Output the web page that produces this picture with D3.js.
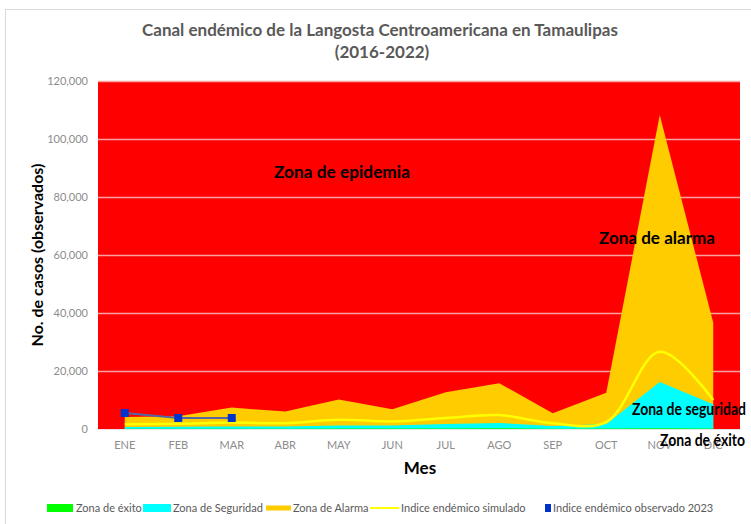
<!DOCTYPE html>
<html>
<head>
<meta charset="utf-8">
<script src="https://cdn.jsdelivr.net/npm/d3@7"></script>
<style>
body{margin:0;background:#fff;}
text{font-family:Lato,'Open Sans',sans-serif;}
</style>
</head>
<body>
<script>
const width=751;
const height=524;

// datos
const meses=['ENE','FEB','MAR','ABR','MAY','JUN','JUL','AGO','SEP','OCT','NOV','DIC'];
const zonaExito=[100,100,120,120,150,150,200,250,120,200,300,200];
const zonaSeguridad=[700,800,900,900,1200,1200,1700,2100,1000,1700,16200,8500];
const zonaAlarma=[4100,4400,7400,6000,10200,6800,12700,15800,5400,12500,108300,36600];
const indiceSimulado=[1600,1800,2200,2000,3200,2600,3800,4800,2000,2400,26600,10000];
const observados=[5500,3800,3800];
const yTicks=[0,20000,40000,60000,80000,100000,120000];

const margin={top:81,bot:95,left:98,right:11};

const svg=d3.select('body').append('svg').attr('width',width).attr('height',height);

svg.append('rect').attr('x',5.5).attr('y',9.5).attr('width',770).attr('height',540)
    .attr('fill','#fff').attr('stroke','#d9d9d9');

const x=d3.scaleBand().domain(meses).range([margin.left,width-margin.right]).padding(0);
const cx=m=>x(m)+x.bandwidth()/2;
const y=d3.scaleLinear().domain([0,120000]).range([height-margin.bot,margin.top]);

// zona de epidemia (fondo)
svg.append('rect').attr('x',margin.left).attr('y',margin.top)
    .attr('width',width-margin.right-margin.left).attr('height',y(0)-margin.top)
    .attr('fill','#ff0000');

svg.append('g').selectAll('line').data(yTicks.slice(1)).enter().append('line')
    .attr('x1',margin.left).attr('x2',width-margin.right)
    .attr('y1',d=>y(d)+0.5).attr('y2',d=>y(d)+0.5)
    .attr('stroke','#f7a3a3').attr('stroke-width',1.3);

const area=vals=>d3.area().x((d,i)=>cx(meses[i])).y0(y(0)).y1(d=>y(d))(vals);

svg.append('path').attr('d',area(zonaAlarma)).attr('fill','#ffcc00');
svg.append('path').attr('d',area(zonaSeguridad)).attr('fill','#00ffff');
svg.append('path').attr('d',area(zonaExito)).attr('fill','#00ff00');

const linea=d3.line().x((d,i)=>cx(meses[i])).y(d=>y(d)).curve(d3.curveCatmullRom.alpha(0.5));
svg.append('path').attr('d',linea(indiceSimulado)).attr('fill','none')
    .attr('stroke','#ffff00').attr('stroke-width',2.5);

const lineaObs=d3.line().x((d,i)=>cx(meses[i])).y(d=>y(d));
svg.append('path').attr('d',lineaObs(observados)).attr('fill','none')
    .attr('stroke','#5566a0').attr('stroke-width',2);
svg.selectAll('.obs').data(observados).enter().append('rect').attr('class','obs')
    .attr('x',(d,i)=>cx(meses[i])-4).attr('y',d=>y(d)-4)
    .attr('width',8).attr('height',8).attr('fill','#0033cc');

// eje x
svg.append('line').attr('x1',margin.left).attr('x2',width-margin.right)
    .attr('y1',y(0)+0.5).attr('y2',y(0)+0.5).attr('stroke','#e3e3e3');

const xAxis=d3.axisBottom(x).tickSize(0).tickPadding(12);
const gx=svg.append('g').attr('transform',`translate(0,${y(0)})`).call(xAxis);
gx.select('.domain').remove();
gx.selectAll('text').attr('fill','#8c8c8c').style('font-size','11px')
    .style('font-family','Lato,sans-serif');

const yAxis=d3.axisLeft(y).tickValues(yTicks).tickSize(0).tickPadding(10)
    .tickFormat(d3.format(','));
const gy=svg.append('g').attr('transform',`translate(${margin.left},0)`).call(yAxis);
gy.select('.domain').remove();
gy.selectAll('text').attr('fill','#8c8c8c').style('font-size','11px')
    .style('font-family','Lato,sans-serif');

// titulos
svg.append('text').text('Canal endémico de la Langosta Centroamericana en Tamaulipas')
    .attr('x',380).attr('y',36).attr('text-anchor','middle')
    .style('font-size','17px').style('font-weight','bold').attr('fill','#595959');
svg.append('text').text('(2016-2022)')
    .attr('x',382).attr('y',58).attr('text-anchor','middle')
    .style('font-size','17px').style('font-weight','bold').attr('fill','#595959');

svg.append('text').text('Mes').attr('x',420).attr('y',474).attr('text-anchor','middle')
    .style('font-size','17px').style('font-weight','bold').attr('fill','#000');

svg.append('text').text('No. de casos (observados)')
    .attr('transform','translate(43,255) rotate(-90)').attr('text-anchor','middle')
    .style('font-size','16px').style('font-weight','bold').attr('fill','#000');

// etiquetas de zonas
const etiqueta=(t,xx,yy,w)=>svg.append('text').text(t).attr('x',xx).attr('y',yy)
    .attr('textLength',w).attr('lengthAdjust','spacingAndGlyphs')
    .style('font-size','17px').style('font-weight','bold').attr('fill','#000');
etiqueta('Zona de epidemia',274,178,136);
etiqueta('Zona de alarma',599,244,116);
etiqueta('Zona de seguridad',632,415,114);
etiqueta('Zona de éxito',660,446,85);

// leyenda
const leg=svg.append('g').style('font-size','11px');
const legTxt=(t,xx)=>leg.append('text').text(t).attr('x',xx).attr('y',512).attr('fill','#595959');
leg.append('rect').attr('x',47).attr('y',504).attr('width',26).attr('height',8).attr('fill','#00ff00');
legTxt('Zona de éxito',76);
leg.append('rect').attr('x',143).attr('y',504).attr('width',28).attr('height',8).attr('fill','#00ffff');
legTxt('Zona de Seguridad',173);
leg.append('rect').attr('x',266).attr('y',505.5).attr('width',25).attr('height',5).attr('fill','#ffcc00');
legTxt('Zona de Alarma',293);
leg.append('line').attr('x1',370).attr('x2',399).attr('y1',508).attr('y2',508)
    .attr('stroke','#ffff00').attr('stroke-width',2);
legTxt('Indice endémico simulado',401);
leg.append('rect').attr('x',545).attr('y',504).attr('width',6).attr('height',8).attr('fill','#0033cc');
legTxt('Indice endémico observado 2023',553);
</script>
</body>
</html>
